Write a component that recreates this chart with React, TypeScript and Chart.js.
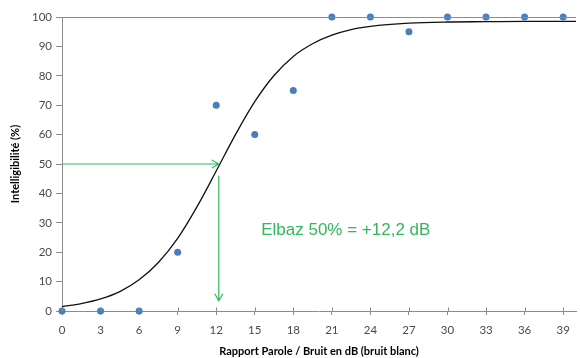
import React, { useEffect, useRef } from "react";
import { Chart, registerables } from "chart.js";

Chart.register(...registerables);

const snrValues = [0, 3, 6, 9, 12, 15, 18, 21, 24, 27, 30, 33, 36, 39];
const intelligibility = [0, 0, 0, 20, 70, 60, 75, 100, 100, 95, 100, 100, 100, 100];

const curveX = [0, 1.5, 3, 4.5, 6, 7.5, 9, 10.5, 12, 13.5, 15, 16.5, 18, 19.5, 21, 22.5, 24, 27, 30, 33, 36, 40];
const curveY = [1.5, 2.5, 4.1, 6.6, 10.6, 16.5, 24.7, 35.4, 47.6, 60.0, 71.2, 80.1, 86.6, 90.9, 93.8, 95.7, 96.8, 97.9, 98.3, 98.4, 98.5, 98.5];

const xTicks = [0, 3, 6, 9, 12, 15, 18, 21, 24, 27, 30, 33, 36, 39];
const yTicks = [0, 10, 20, 30, 40, 50, 60, 70, 80, 90, 100];

const threshold50 = 50;
const thresholdDb = 12.2;
const verticalArrowFrom = 46;
const verticalArrowTo = 3.5;
const annotationText = "Elbaz 50% = +12,2 dB";
const annotationAt = { x: 15.5, y: 27.5 };

const GREEN = "#33b85a";
const AXIS = "#8c8c8c";

const overlayPlugin = {
  id: "overlay",
  afterDatasetsDraw(chart: any) {
    const { ctx, scales, chartArea } = chart;
    const xs = scales.x;
    const ys = scales.y;
    ctx.save();
    // top border line at 100
    ctx.strokeStyle = AXIS;
    ctx.lineWidth = 1;
    const yTop = Math.round(ys.getPixelForValue(100)) + 0.5;
    ctx.beginPath();
    ctx.moveTo(chartArea.left, yTop);
    ctx.lineTo(chartArea.right, yTop);
    ctx.stroke();
    // inner part of x ticks (crossing)
    const y0 = Math.round(ys.getPixelForValue(0)) + 0.5;
    for (const v of xTicks) {
      const px = Math.round(xs.getPixelForValue(v)) + 0.5;
      ctx.beginPath();
      ctx.moveTo(px, y0 - 4);
      ctx.lineTo(px, y0);
      ctx.stroke();
    }
    // arrows
    ctx.strokeStyle = GREEN;
    ctx.lineWidth = 1.2;
    const hx0 = xs.getPixelForValue(0);
    const hx1 = xs.getPixelForValue(thresholdDb);
    const hy = ys.getPixelForValue(threshold50);
    ctx.beginPath();
    ctx.moveTo(hx0, hy);
    ctx.lineTo(hx1, hy);
    ctx.moveTo(hx1 - 7, hy - 4);
    ctx.lineTo(hx1, hy);
    ctx.lineTo(hx1 - 7, hy + 4);
    ctx.stroke();
    const vy0 = ys.getPixelForValue(verticalArrowFrom);
    const vy1 = ys.getPixelForValue(verticalArrowTo);
    ctx.beginPath();
    ctx.moveTo(hx1, vy0);
    ctx.lineTo(hx1, vy1);
    ctx.moveTo(hx1 - 4, vy1 - 7);
    ctx.lineTo(hx1, vy1);
    ctx.lineTo(hx1 + 4, vy1 - 7);
    ctx.stroke();
    // text
    ctx.fillStyle = GREEN;
    ctx.font = "17px 'Liberation Sans', Arial, sans-serif";
    ctx.textBaseline = "middle";
    ctx.textAlign = "left";
    ctx.fillText(annotationText, xs.getPixelForValue(annotationAt.x), ys.getPixelForValue(annotationAt.y));
    ctx.restore();
  },
};

export default function App() {
  const canvasRef = useRef<HTMLCanvasElement | null>(null);

  useEffect(() => {
    if (!canvasRef.current) return;
    const chart = new Chart(canvasRef.current, {
      type: "scatter",
      data: {
        datasets: [
          {
            type: "line",
            label: "Fit",
            data: curveX.map((x, i) => ({ x, y: curveY[i] })),
            borderColor: "#111111",
            borderWidth: 1.3,
            pointRadius: 0,
            tension: 0.4,
            cubicInterpolationMode: "monotone",
            fill: false,
            clip: false,
            order: 2,
          } as any,
          {
            label: "Mesures",
            data: snrValues.map((x, i) => ({ x, y: intelligibility[i] })),
            backgroundColor: "#4a7ebb",
            borderColor: "#4a7ebb",
            pointRadius: 3.5,
            pointBorderWidth: 0,
            clip: false,
            order: 1,
          } as any,
        ],
      },
      options: {
        animation: false,
        responsive: false,
        maintainAspectRatio: false,
        layout: { padding: { top: 17, right: 0, left: 0, bottom: 0 } },
        plugins: { legend: { display: false }, tooltip: { enabled: false } },
        scales: {
          x: {
            type: "linear",
            min: 0,
            max: 40,
            afterBuildTicks: (scale: any) => {
              scale.ticks = xTicks.map((v) => ({ value: v }));
            },
            afterFit: (scale: any) => {
              scale.height = 47;
            },
            ticks: {
              font: { family: "Lato, 'Open Sans', sans-serif", size: 11.5 },
              color: "#4a4a4a",
              padding: 8,
              maxRotation: 0,
              autoSkip: false,
            },
            grid: { display: true, drawOnChartArea: false, drawTicks: true, tickLength: 4, color: AXIS },
            border: { display: true, color: AXIS },
            title: {
              display: true,
              text: "Rapport Parole / Bruit en dB (bruit blanc)",
              font: { family: "Lato, 'Open Sans', sans-serif", size: 11, weight: "bold" },
              color: "#000000",
              padding: { top: 0, bottom: 0 },
            },
          },
          y: {
            type: "linear",
            min: 0,
            max: 100,
            afterBuildTicks: (scale: any) => {
              scale.ticks = yTicks.map((v) => ({ value: v }));
            },
            afterFit: (scale: any) => {
              scale.width = 62;
            },
            ticks: {
              font: { family: "Lato, 'Open Sans', sans-serif", size: 11.5 },
              color: "#4a4a4a",
              padding: 4,
            },
            grid: { display: true, drawOnChartArea: false, drawTicks: true, tickLength: 6, color: AXIS },
            border: { display: true, color: AXIS },
            title: {
              display: true,
              text: "Intelligibilité (%)",
              font: { family: "Lato, 'Open Sans', sans-serif", size: 11, weight: "bold" },
              color: "#000000",
              padding: { top: 9, bottom: 0 },
            },
          },
        },
      },
      plugins: [overlayPlugin],
    });
    return () => chart.destroy();
  }, []);

  return (
    <div style={{ position: "fixed", left: 0, top: 0, width: 580, height: 358, background: "#fff" }}>
      <canvas ref={canvasRef} width={580} height={358} style={{ width: 580, height: 358 }} />
    </div>
  );
}
